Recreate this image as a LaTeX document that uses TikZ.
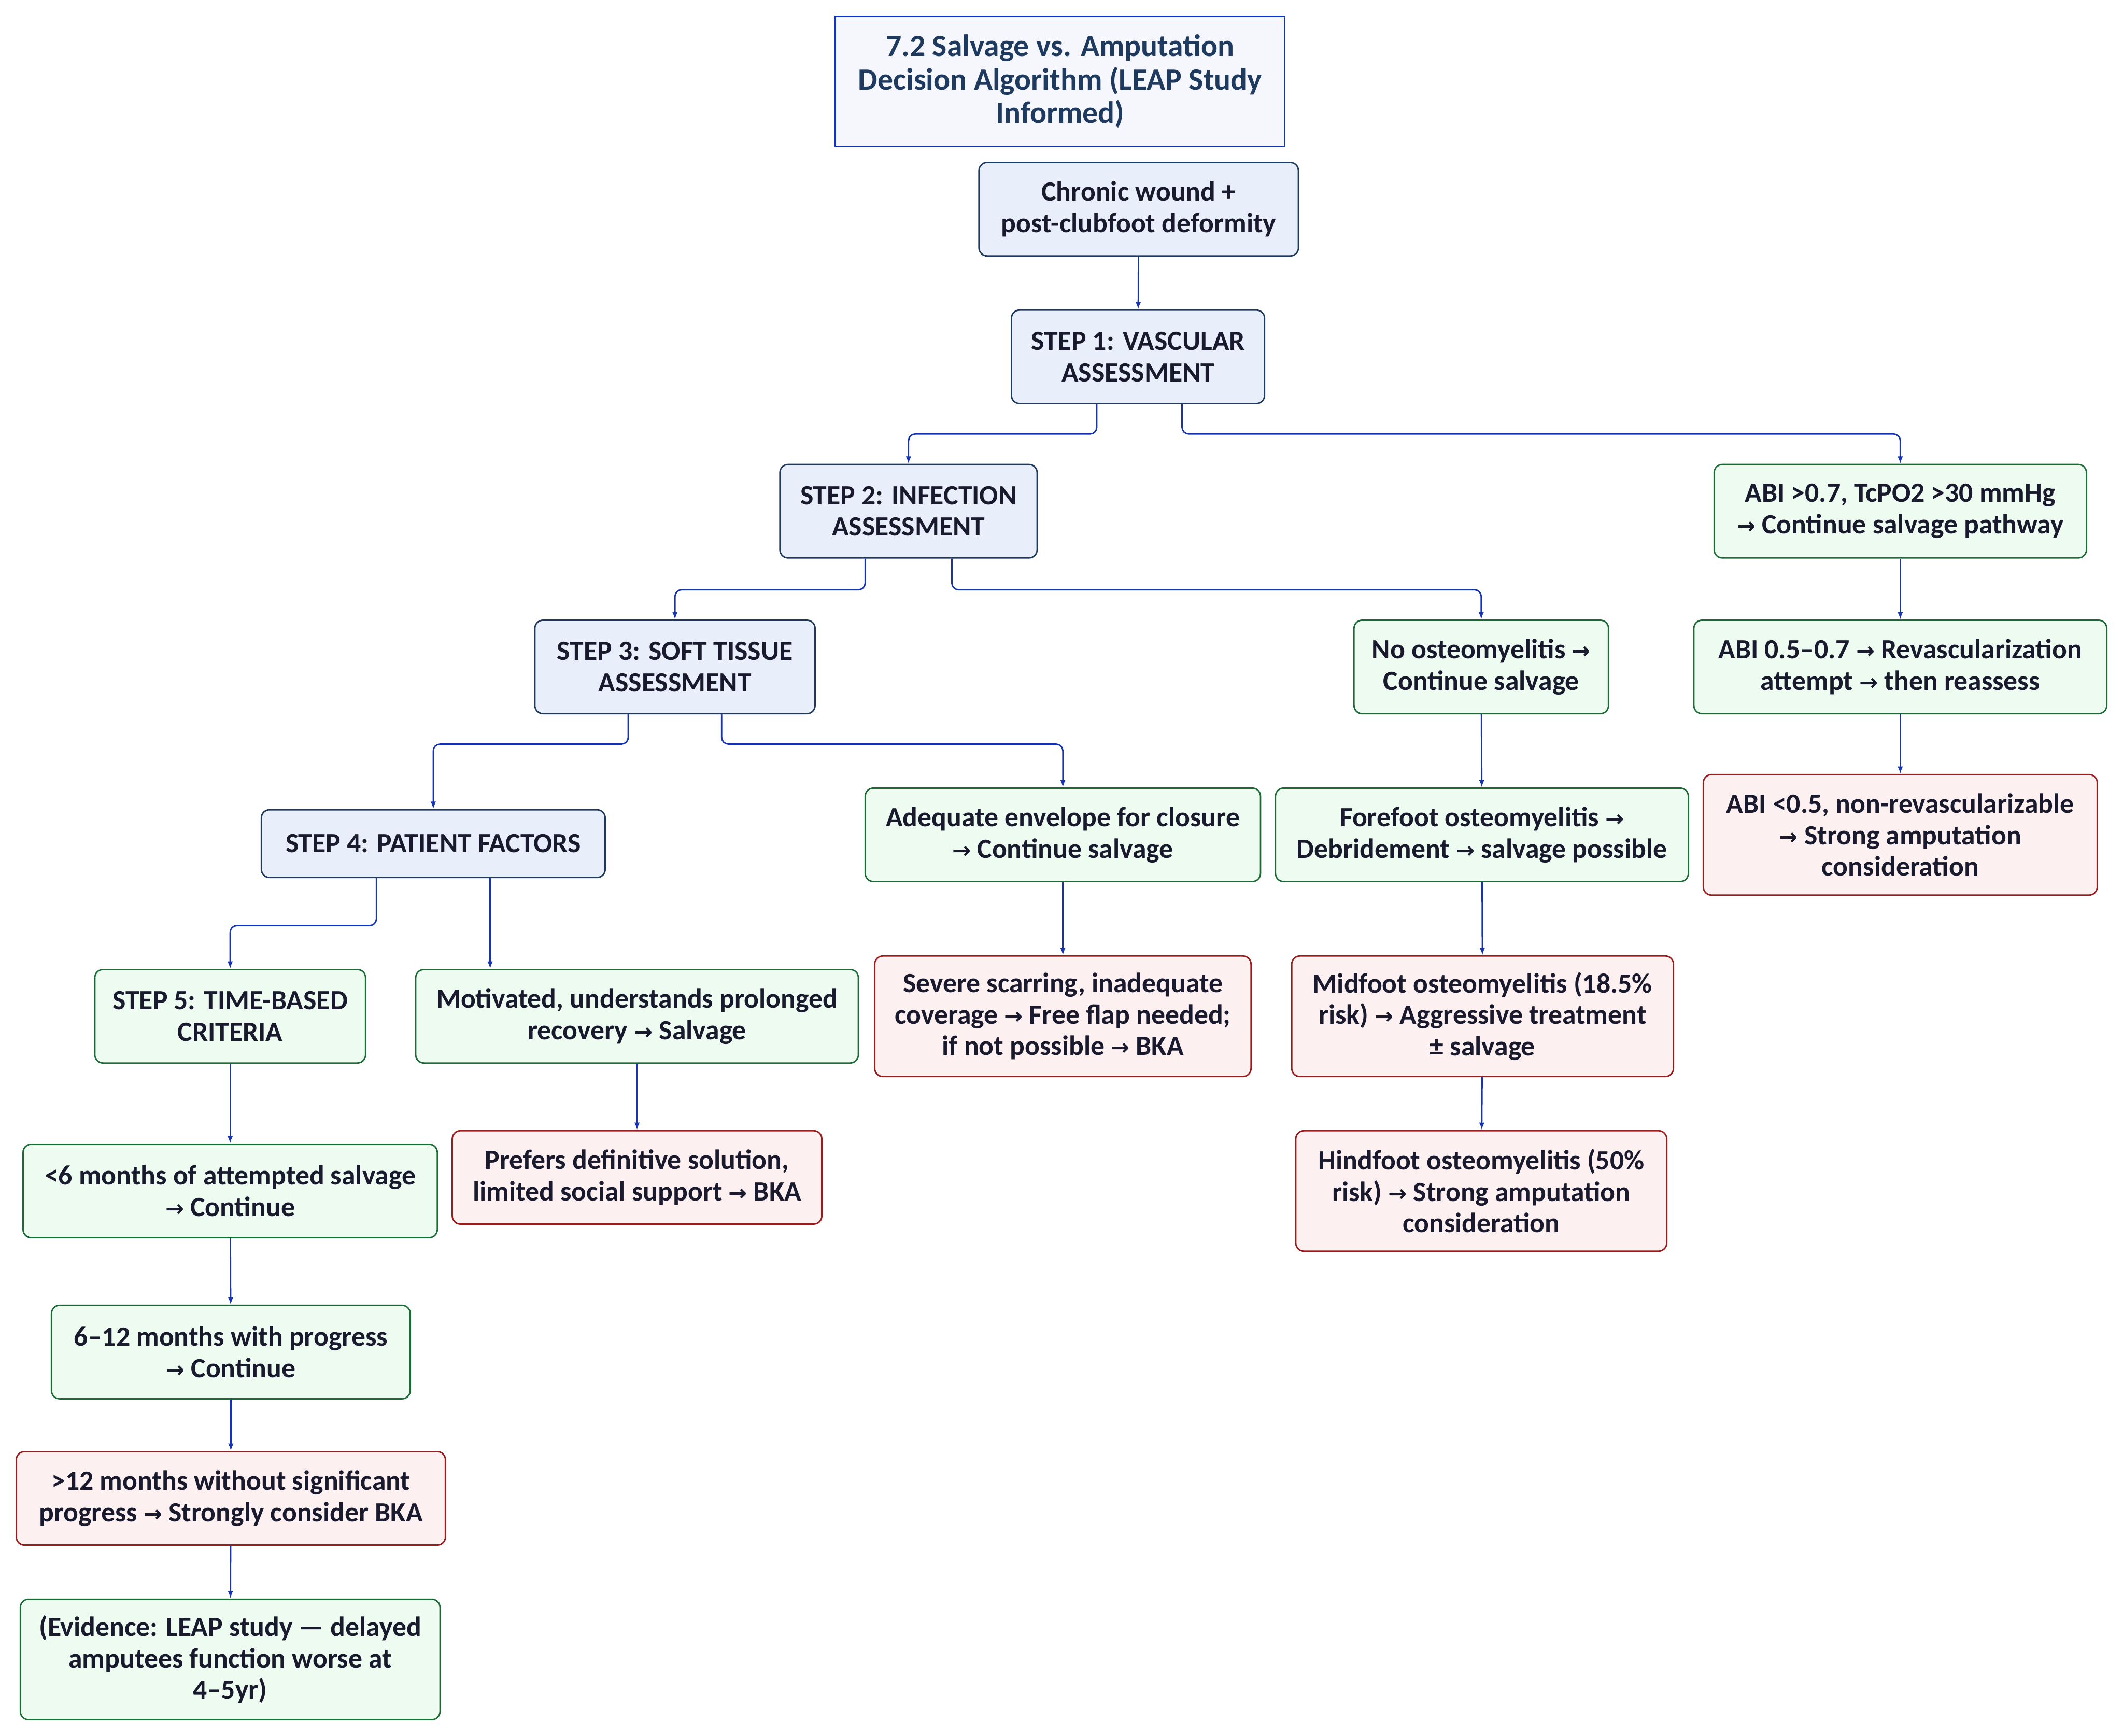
\documentclass[tikz,border=0pt]{standalone}
\usepackage{fontspec}
\setmainfont{Carlito}
\newfontfamily\arrowfont{DejaVu Sans}
\usetikzlibrary{arrows.meta}
\definecolor{inkdark}{HTML}{1A1A2E}
\definecolor{navy}{HTML}{1F3A5F}
\definecolor{linkblue}{HTML}{1434B4}
\definecolor{stepfill}{HTML}{E8EEFA}
\definecolor{okfill}{HTML}{EEFBF1}
\definecolor{okdraw}{HTML}{1B6B35}
\definecolor{badfill}{HTML}{FDF0F0}
\definecolor{baddraw}{HTML}{9B1C1C}
\definecolor{titlefill}{HTML}{F5F7FD}
\newcommand{\arr}{{\arrowfont\scalebox{0.8}{→}}}
\begin{document}
\begin{tikzpicture}[x=0.02cm,y=-0.02cm]
        		\tikzstyle{box}=[rectangle,rounded corners=0.12cm,line width=0.6pt,align=center,text=inkdark,inner sep=2pt,minimum height=1.38cm,font=\bfseries\fontsize{11.7}{13.2}\selectfont]
        		\tikzstyle{stepbox}=[box,draw=navy,fill=stepfill]
        		\tikzstyle{okbox}=[box,draw=okdraw,fill=okfill]
        		\tikzstyle{badbox}=[box,draw=baddraw,fill=badfill]
        		\tikzstyle{titlebox}=[rectangle,line width=0.6pt,draw=linkblue,fill=titlefill,text=navy,align=center,font=\bfseries\fontsize{13}{14.1}\selectfont]
        		\tikzstyle{edge}=[draw=linkblue,line width=0.6pt,rounded corners=0.1cm,-{Latex[length=1.1mm,width=0.8mm]}]

        		\useasboundingbox (0,0) rectangle (1568,1282);

       			\begin{scope}

			         \node [titlebox,minimum width=6.64cm,minimum height=1.92cm] (title) at (783,60) {7.2 Salvage vs. Amputation\\Decision Algorithm (LEAP Study\\Informed)};

			         \node [stepbox,minimum width=4.72cm] (start) at (841,154.5) {Chronic wound +\\post-clubfoot deformity};
			         \node [stepbox,minimum width=3.74cm] (s1) at (840.5,263.5) {STEP 1: VASCULAR\\ASSESSMENT};
			         \node [stepbox,minimum width=3.80cm] (s2) at (671,377.5) {STEP 2: INFECTION\\ASSESSMENT};
			         \node [stepbox,minimum width=4.14cm] (s3) at (498.5,492.5) {STEP 3: SOFT TISSUE\\ASSESSMENT};
			         \node [stepbox,minimum width=5.08cm,minimum height=1.00cm] (s4) at (320,623) {STEP 4: PATIENT FACTORS};

			         \node [okbox,minimum width=5.50cm] (abiok) at (1403.5,377.5) {ABI >0.7, TcPO2 >30 mmHg\\\arr{} Continue salvage pathway};
			         \node [okbox,minimum width=6.10cm] (abimid) at (1403.5,492.5) {ABI 0.5–0.7 \arr{} Revascularization\\attempt \arr{} then reassess};
			         \node [badbox,minimum width=5.82cm,minimum height=1.78cm] (abilow) at (1403.5,616.5) {ABI <0.5, non-revascularizable\\\arr{} Strong amputation\\consideration};

			         \node [okbox,minimum width=3.76cm] (noosteo) at (1094,492.5) {No osteomyelitis \arr\\Continue salvage};
			         \node [okbox,minimum width=6.10cm] (fore) at (1094.5,616.5) {Forefoot osteomyelitis \arr\\Debridement \arr{} salvage possible};
			         \node [badbox,minimum width=5.64cm,minimum height=1.78cm] (mid) at (1095,750.5) {Midfoot osteomyelitis (18.5\%\\risk) \arr{} Aggressive treatment\\± salvage};
			         \node [badbox,minimum width=5.48cm,minimum height=1.78cm] (hind) at (1094,879.5) {Hindfoot osteomyelitis (50\%\\risk) \arr{} Strong amputation\\consideration};

			         \node [okbox,minimum width=5.84cm] (envel) at (785,616.5) {Adequate envelope for closure\\\arr{} Continue salvage};
			         \node [badbox,minimum width=5.56cm,minimum height=1.78cm] (scar) at (785,750.5) {Severe scarring, inadequate\\coverage \arr{} Free flap needed;\\if not possible \arr{} BKA};

			         \node [okbox,minimum width=6.54cm] (motiv) at (470.5,750.5) {Motivated, understands prolonged\\recovery \arr{} Salvage};
			         \node [badbox,minimum width=5.46cm] (pref) at (470.5,869.5) {Prefers definitive solution,\\limited social support \arr{} BKA};

			         \node [okbox,minimum width=4.00cm] (s5) at (170,750.5) {STEP 5: TIME-BASED\\CRITERIA};
			         \node [okbox,minimum width=6.12cm] (lt6) at (170,879.5) {<6 months of attempted salvage\\\arr{} Continue};
			         \node [okbox,minimum width=5.30cm] (m612) at (170.5,998.5) {6–12 months with progress\\\arr{} Continue};
			         \node [badbox,minimum width=6.34cm] (gt12) at (170.5,1106.5) {>12 months without significant\\progress \arr{} Strongly consider BKA};
			         \node [okbox,minimum width=6.20cm,minimum height=1.78cm] (evid) at (170,1225.5) {(Evidence: LEAP study — delayed\\amputees function worse at\\4–5yr)};

			 		\path[edge] (start) -- (s1);
			 		\path[edge] ([xshift=-0.61cm]s1.south) -- ++(0,22) -| (s2.north);
			 		\path[edge] ([xshift=0.65cm]s1.south) -- ++(0,22) -| (abiok.north);
			 		\path[edge] (abiok) -- (abimid);
			 		\path[edge] (abimid) -- (abilow);
			 		\path[edge] ([xshift=-0.64cm]s2.south) -- ++(0,23) -| (s3.north);
			 		\path[edge] ([xshift=0.64cm]s2.south) -- ++(0,23) -| (noosteo.north);
			 		\path[edge] (noosteo) -- (fore);
			 		\path[edge] (fore) -- (mid);
			 		\path[edge] (mid) -- (hind);
			 		\path[edge] ([xshift=-0.69cm]s3.south) -- ++(0,22) -| (s4.north);
			 		\path[edge] ([xshift=0.69cm]s3.south) -- ++(0,22) -| (envel.north);
			 		\path[edge] (envel) -- (scar);
			 		\path[edge] ([xshift=-0.84cm]s4.south) -- ++(0,35) -| (s5.north);
			 		\path[edge] ([xshift=0.84cm]s4.south) -- ([xshift=0.84cm]s4.south |- motiv.north);
			 		\path[edge] (motiv) -- (pref);
			 		\path[edge] (s5) -- (lt6);
			 		\path[edge] (lt6) -- (m612);
			 		\path[edge] (m612) -- (gt12);
			 		\path[edge] (gt12) -- (evid);

		        \end{scope}
\end{tikzpicture}
\end{document}
